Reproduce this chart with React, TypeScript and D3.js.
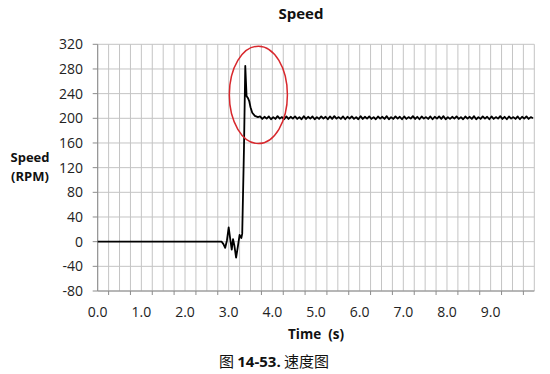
import React from 'react';
import * as d3 from 'd3';

// start-up transient (time in s, speed in RPM)
const transientTime = [0, 2.84, 2.88, 2.92, 2.96, 3.0, 3.04, 3.07, 3.1, 3.13, 3.17, 3.21, 3.25, 3.29, 3.31, 3.35, 3.38, 3.41, 3.44, 3.47, 3.5, 3.54, 3.6, 3.67];
const transientSpeed = [0, 0, -4, -10, 2, 23, 2, -13, 4, -6, -26, -8, 11, 6, 13, 150, 285, 236, 233, 228, 218, 209, 204, 202];

// steady state ripple, sampled every 0.05 s from 3.72 s
const steadyStart = 3.72;
const steadyStep = 0.05;
const steadySpeed = [
  203, 199, 202.5, 199.5, 203, 198.5, 202, 199, 203.5, 199.5,
  202, 198.5, 203, 199, 202.5, 199.5, 203, 199, 202, 198.5,
  203.5, 199, 202.5, 199.5, 203, 198.5, 202, 199, 203, 199.5,
  202.5, 198.5, 203, 199, 203.5, 199.5, 202, 199, 203, 198.5,
  202.5, 199.5, 203, 199, 202, 198.5, 203.5, 199, 202.5, 199.5,
  203, 199, 202, 198.5, 203, 199.5, 202.5, 199, 203.5, 198.5,
  202, 199, 203, 199.5, 202.5, 198.5, 203, 199, 202, 199.5,
  203.5, 199, 202.5, 198.5, 203, 199.5, 202, 199, 203, 198.5,
  202.5, 199.5, 203, 199, 203.5, 198.5, 202, 199, 202.5, 199.5,
  203, 199, 202, 198.5, 203, 199.5, 202.5, 199, 203.5, 198.5,
  202, 199, 203, 199.5, 202.5, 198.5, 203, 199, 202, 199.5,
  203.5, 199, 202.5, 198.5, 203, 199.5, 202, 199, 203, 198.5,
  202.5, 199.5, 203, 199, 202, 200
];

const yTicks = [-80, -40, 0, 40, 80, 120, 160, 200, 240, 280, 320];
const xLabels = [0, 1, 2, 3, 4, 5, 6, 7, 8, 9];
const xGrid = d3.range(0, 41).map(i => i * 0.25);
const xTickMarks = d3.range(0, 20).map(i => 0.25 + i * 0.5);

// red highlight around the overshoot (data units)
const highlight = { t: 3.68, v: 238, rt: 0.665, rv: 79 };

const width = 550, height = 374;
const left = 97.7, right = 534.3, top = 44.3, bottom = 291;

const App = () => {
  const x = d3.scaleLinear().domain([0, 10]).range([left, right]);
  const y = d3.scaleLinear().domain([-80, 320]).range([bottom, top]);

  const points: [number, number][] = transientTime.map((t, i) => [t, transientSpeed[i]]);
  steadySpeed.forEach((v, i) => points.push([Math.min(steadyStart + i * steadyStep, 10), v]));

  const line = d3.line<[number, number]>()
    .x(d => x(d[0]))
    .y(d => y(d[1]));

  const font = '"Open Sans", sans-serif';

  return (
    <svg width={width} height={height} style={{ position: 'absolute', left: 0, top: 0, background: '#fff' }}>
      <rect width={width} height={height} fill="#fff" />
      {/* grid */}
      {xGrid.map(t => (
        <line key={'gx' + t} x1={x(t)} x2={x(t)} y1={top} y2={bottom} stroke="#c4c4c4" strokeWidth={1} />
      ))}
      {yTicks.map(v => (
        <line key={'gy' + v} x1={left} x2={right} y1={y(v)} y2={y(v)} stroke="#c4c4c4" strokeWidth={1} />
      ))}
      {/* axes */}
      <line x1={left} x2={left} y1={top} y2={bottom} stroke="#8c8c8c" strokeWidth={1} />
      <line x1={left} x2={right} y1={bottom} y2={bottom} stroke="#8c8c8c" strokeWidth={1} />
      {yTicks.map(v => (
        <g key={'ty' + v}>
          <line x1={left - 5} x2={left} y1={y(v)} y2={y(v)} stroke="#8c8c8c" />
          <text x={83} y={y(v)} dy="0.36em" textAnchor="end" fontFamily={font} fontSize={14} fill="#222">{v}</text>
        </g>
      ))}
      {xTickMarks.map(t => (
        <line key={'tx' + t} x1={x(t)} x2={x(t)} y1={bottom} y2={bottom + 4} stroke="#8c8c8c" />
      ))}
      {xLabels.map(t => (
        <text key={'lx' + t} x={x(t)} y={317} textAnchor="middle" fontFamily={font} fontSize={14} fill="#222">{t.toFixed(1)}</text>
      ))}
      {/* data */}
      <path d={line(points) || ''} fill="none" stroke="#000" strokeWidth={1.8} strokeLinejoin="round" />
      <ellipse cx={x(highlight.t)} cy={y(highlight.v)} rx={x(highlight.rt) - x(0)} ry={y(0) - y(highlight.rv)}
        fill="none" stroke="#d8282d" strokeWidth={1.5} />
      {/* titles */}
      <text x={301} y={19} textAnchor="middle" fontFamily={font} fontWeight="bold" fontSize={15} fill="#111">Speed</text>
      <text x={30} y={162} textAnchor="middle" fontFamily={font} fontWeight="bold" fontSize={13} fill="#111">Speed</text>
      <text x={30} y={181} textAnchor="middle" fontFamily={font} fontWeight="bold" fontSize={13} fill="#111">(RPM)</text>
      <text x={316} y={339} textAnchor="middle" fontFamily={font} fontWeight="bold" fontSize={13.5} fill="#111" style={{ whiteSpace: 'pre' }}>Time  (s)</text>
      <text x={274} y={367} textAnchor="middle" fontFamily='"Noto Sans CJK SC", sans-serif' fontSize={15} fill="#111" style={{ whiteSpace: 'pre' }}>
        图 <tspan fontWeight="bold" fontFamily={font}>14-53.</tspan> 速度图
      </text>
    </svg>
  );
};

export default App;
